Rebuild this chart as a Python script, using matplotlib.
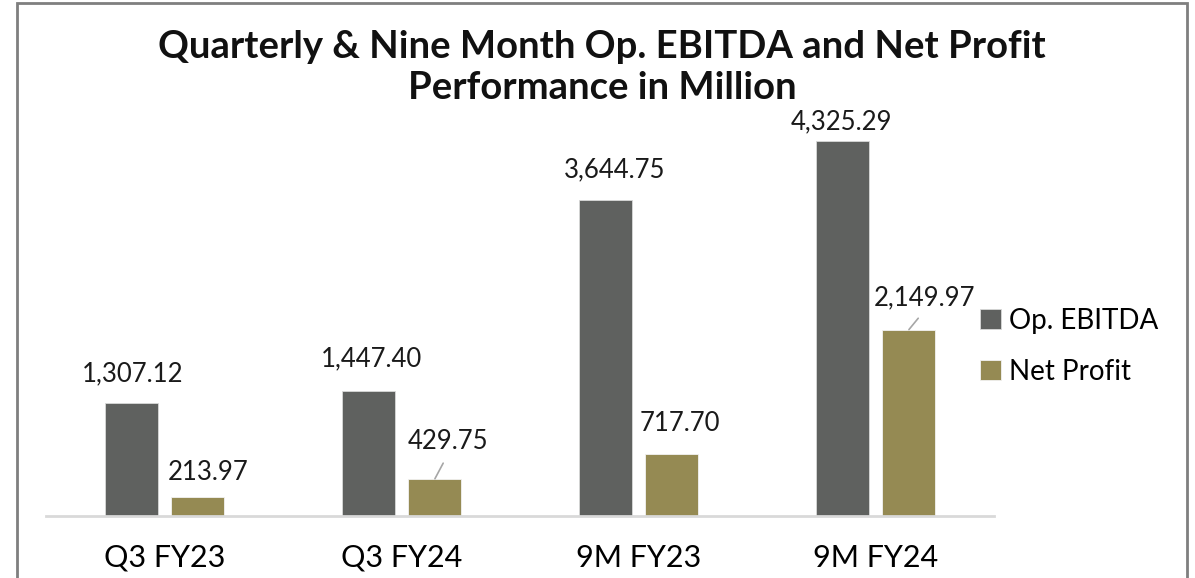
import matplotlib
matplotlib.use("Agg")
import matplotlib.pyplot as plt
import numpy as np
from matplotlib.patches import Rectangle

# chart data
categories = ["Q3 FY23", "Q3 FY24", "9M FY23", "9M FY24"]
op_ebitda = [1307.12, 1447.40, 3644.75, 4325.29]
net_profit = [213.97, 429.75, 717.70, 2149.97]
series_names = ["Op. EBITDA", "Net Profit"]

C_EBITDA = "#5f615f"
C_NP = "#958a53"

plt.rcParams["font.family"] = ["Lato", "DejaVu Sans"]

W, H = 1195, 578
fig = plt.figure(figsize=(W / 100, H / 100), dpi=100)

# outer frame (top/left/right visible, bottom cut off)
fig.patches.append(Rectangle((16.5 / W, -0.05), (1187 - 16.5) / W, 1.05 - 3 / H,
                             transform=fig.transFigure, fill=False,
                             edgecolor="#7f7f7f", lw=2, zorder=0))

ax = fig.add_axes([46 / W, 62 / H, (994 - 46) / W, (516 - 82.5) / H])

x = np.arange(len(categories))
bw = 0.224
off = 0.141
b1 = ax.bar(x - off, op_ebitda, bw, color=C_EBITDA, edgecolor="#d9d9d9",
            linewidth=0.6, label=series_names[0], zorder=2)
b2 = ax.bar(x + off, net_profit, bw, color=C_NP, edgecolor="#f2f2f2",
            linewidth=0.6, label=series_names[1], zorder=2)

ax.set_xlim(-0.5, len(categories) - 0.5)
ax.set_ylim(0, 5000)
ax.set_yticks([])
for s in ["top", "right", "left"]:
    ax.spines[s].set_visible(False)
ax.spines["bottom"].set_color("#d9d9d9")
ax.spines["bottom"].set_linewidth(2)
ax.set_xticks(x)
ax.set_xticklabels(categories, fontsize=22)
ax.tick_params(axis="x", length=0, pad=20)

# label offsets (pixels) relative to top centre of each bar
ebitda_off = [(1.5, 29), (3, 32), (10, 30), (-1, 19)]
np_off = [(10.5, 25), (13, 37), (8, 30), (16, 32)]
np_leader = [False, True, False, True]

for xi, v, (dx, dy) in zip(x - off, op_ebitda, ebitda_off):
    ax.annotate(f"{v:,.2f}", xy=(xi, v), xytext=(dx, dy), textcoords="offset pixels",
                ha="center", va="center", fontsize=18.5, color="#1a1a1a")

for xi, v, (dx, dy), ld in zip(x + off, net_profit, np_off, np_leader):
    props = None
    if ld:
        props = dict(arrowstyle="-", color="#a6a6a6", lw=1.2, shrinkA=5, shrinkB=0,
                     relpos=(0.5, 0.0))
    ax.annotate(f"{v:,.2f}", xy=(xi, v), xytext=(dx, dy), textcoords="offset pixels",
                ha="center", va="center", fontsize=18.5, color="#1a1a1a",
                arrowprops=props)

fig.legend(handles=[b1, b2], labels=series_names, loc="center left",
           bbox_to_anchor=(969 / W, 1 - 346 / H), frameon=False, fontsize=20,
           handlelength=0.75, handleheight=0.75, handletextpad=0.3,
           labelspacing=0.9, borderaxespad=0)

fig.text(0.504, 1 - 47 / H, "Quarterly & Nine Month Op. EBITDA and Net Profit",
         ha="center", va="center", fontsize=27.5, fontweight="bold", color="#111111")
fig.text(0.504, 1 - 88 / H, "Performance in Million",
         ha="center", va="center", fontsize=27.5, fontweight="bold", color="#111111")

fig.savefig("out.png", dpi=100)
